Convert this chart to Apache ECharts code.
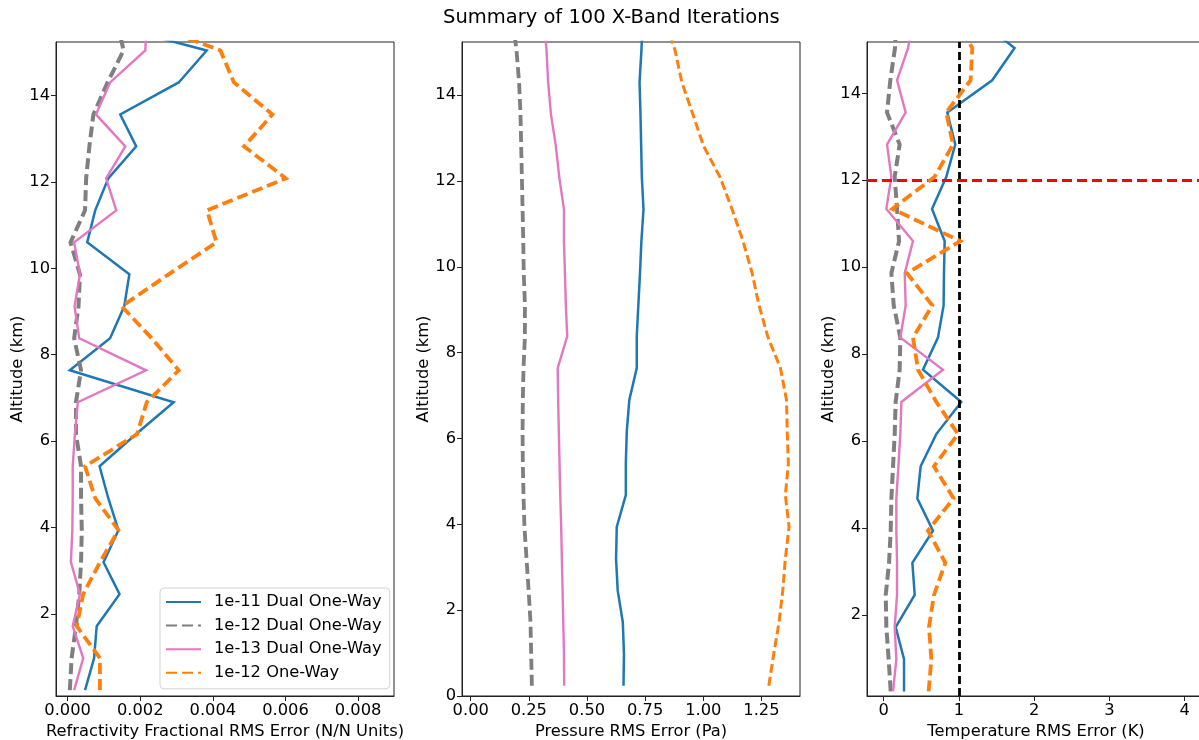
<!DOCTYPE html>
<html>
<head>
<meta charset="utf-8">
<script src="https://cdn.jsdelivr.net/npm/echarts@6/dist/echarts.min.js"></script>
<style>
html,body{margin:0;padding:0;background:#fff;}
#chart{width:1199px;height:740px;}
</style>
</head>
<body>
<div id="chart"></div>
<script>
// ---- data (bottom to top) ----
const altitudes = [0.24, 0.98, 1.72, 2.46, 3.2, 3.94, 4.68, 5.42, 6.16, 6.9, 7.64, 8.38, 9.12, 9.86, 10.6, 11.34, 12.08, 12.82, 13.56, 14.3, 15.04, 15.78];
const seriesNames = ['1e-11 Dual One-Way', '1e-12 Dual One-Way', '1e-13 Dual One-Way', '1e-12 One-Way'];

const refr11 = [0.00048,0.00073,0.0008,0.00143,0.00099,0.0014,0.00112,0.00088,0.00188,0.00292,0.00006,0.00117,0.00156,0.0017,0.00054,0.00076,0.00112,0.00189,0.00145,0.00306,0.00383,0.00048];
const refr12 = [0.00006,0.00011,0.00023,0.00032,0.00037,0.00039,0.00037,0.00037,0.00023,0.00023,0.00037,0.00018,0.0003,0.00034,0.00008,0.00048,0.00051,0.0006,0.00071,0.0011,0.00154,0.00135];
const refr13 = [0.00018,0.00043,0.00014,0.00034,0.00009,0.00013,0.00014,0.00014,0.0002,0.00028,0.00216,0.00032,0.00019,0.00034,0.00018,0.00134,0.00106,0.00159,0.00078,0.00117,0.00214,0.00218];
const refr1w = [0.00089,0.00089,0.00025,0.00043,0.00089,0.0014,0.00076,0.00048,0.00191,0.00218,0.00306,0.00232,0.00149,0.00278,0.0041,0.00384,0.00601,0.00486,0.00564,0.00458,0.00421,0.00182];

const pres11 = [0.657,0.659,0.654,0.632,0.625,0.628,0.667,0.667,0.671,0.682,0.714,0.714,0.721,0.728,0.734,0.743,0.736,0.733,0.73,0.726,0.734,0.74];
const pres12 = [0.263,0.26,0.257,0.249,0.24,0.231,0.227,0.224,0.223,0.224,0.227,0.233,0.233,0.228,0.226,0.223,0.22,0.217,0.214,0.208,0.197,0.18];
const pres13 = [0.402,0.401,0.398,0.395,0.392,0.389,0.385,0.382,0.379,0.376,0.374,0.415,0.409,0.405,0.401,0.401,0.381,0.366,0.345,0.333,0.326,0.315];
const pres1w = [1.282,1.303,1.326,1.342,1.353,1.369,1.353,1.366,1.361,1.358,1.332,1.277,1.239,1.21,1.171,1.124,1.073,1.001,0.955,0.908,0.879,0.836];

const temp11 = [0.27,0.27,0.159,0.412,0.381,0.655,0.447,0.491,0.699,1.031,0.522,0.721,0.796,0.801,0.81,0.642,0.832,0.951,0.845,1.442,1.739,1.2];
const temp12 = [0.093,0.066,0.035,0.027,0.071,0.093,0.102,0.124,0.146,0.159,0.212,0.221,0.133,0.102,0.204,0.177,0.146,0.212,0.044,0.088,0.15,0.168];
const temp13 = [0.124,0.168,0.146,0.177,0.177,0.168,0.168,0.195,0.221,0.235,0.788,0.221,0.292,0.279,0.389,0.035,0.102,0.044,0.292,0.177,0.323,0.4];
const temp1w = [0.597,0.633,0.602,0.668,0.819,0.588,0.929,0.668,0.987,0.699,0.456,0.389,0.646,0.31,1.018,0.115,0.677,0.92,0.832,1.155,1.177,0.95];

const tempLimit = [1];      // K, vertical reference
const altitudeMark = [12];  // km, horizontal reference

const refrTicks = [0, 0.002, 0.004, 0.006, 0.008];
const presTicks = [0, 0.25, 0.5, 0.75, 1.0, 1.25];
const tempTicks = [0, 1, 2, 3, 4];
const altTicks13 = [2, 4, 6, 8, 10, 12, 14];
const altTicks2 = [0, 2, 4, 6, 8, 10, 12, 14];

// ---- styling ----
const FONT = 'DejaVu Sans';
const FS = 16.3;
const colors = ['#1f77b4', '#7f7f7f', '#e377c2', '#ff7f0e'];
const axisCol = '#222';

function pairs(vals){ return vals.map((v,i)=>[v, altitudes[i]]); }

function xAxisDef(idx, min, max, ticks, name, fmt){
  return {
    type:'value', gridIndex:idx, min:min, max:max,
    name:name, nameLocation:'middle', nameGap:25,
    nameTextStyle:{fontFamily:FONT, fontSize:FS, color:'#000'},
    axisLine:{show:true, onZero:false, lineStyle:{color:axisCol, width:1}},
    axisTick:{show:true, inside:false, length:5, customValues:ticks, lineStyle:{color:axisCol}},
    axisLabel:{show:true, margin:7, customValues:ticks, formatter:fmt, fontFamily:FONT, fontSize:FS, color:'#000'},
    splitLine:{show:false}
  };
}
function yAxisDef(idx, min, max, ticks){
  return {
    type:'value', gridIndex:idx, min:min, max:max,
    name:'Altitude (km)', nameLocation:'middle', nameGap:28, nameRotate:90,
    nameTextStyle:{fontFamily:FONT, fontSize:FS, color:'#000'},
    axisLine:{show:true, onZero:false, lineStyle:{color:axisCol, width:1}},
    axisTick:{show:true, inside:false, length:5, customValues:ticks, lineStyle:{color:axisCol}},
    axisLabel:{show:true, margin:6, customValues:ticks, formatter:v=>String(Math.round(v)), fontFamily:FONT, fontSize:FS, color:'#000'},
    splitLine:{show:false}
  };
}
function lineSeries(idx, k, vals, width, dash){
  return {
    type:'line', name:seriesNames[k], xAxisIndex:idx, yAxisIndex:idx,
    data:pairs(vals), symbol:'none', clip:true, animation:false,
    lineStyle:{color:colors[k], width:width, type: dash ? dash : 'solid', cap:'butt', join:'miter'},
    itemStyle:{color:colors[k]}, z: 2 + k
  };
}

const grids = [
  {left:56, top:42, width:338, height:654},
  {left:462, top:42, width:338, height:654},
  {left:867, top:42, width:338, height:654}
].map(g=>Object.assign(g,{show:true, borderColor:axisCol, borderWidth:1, backgroundColor:'transparent', containLabel:false, outerBoundsMode:'none'}));

const series = [
  lineSeries(0,0,refr11,2.5,null),
  lineSeries(0,1,refr12,4,[11,5]),
  lineSeries(0,2,refr13,2.4,null),
  lineSeries(0,3,refr1w,3.8,[11,5]),
  lineSeries(1,0,pres11,2.5,null),
  lineSeries(1,1,pres12,3.8,[11,5]),
  lineSeries(1,2,pres13,2.4,null),
  lineSeries(1,3,pres1w,3,[9,4]),
  lineSeries(2,0,temp11,2.5,null),
  lineSeries(2,1,temp12,4,[11,5]),
  lineSeries(2,2,temp13,2.4,null),
  lineSeries(2,3,temp1w,3.8,[11,5])
];
// reference lines in the temperature panel
series.push({
  type:'line', xAxisIndex:2, yAxisIndex:2, data:[], symbol:'none', silent:true, animation:false,
  markLine:{
    symbol:['none','none'], silent:true, animation:false, label:{show:false},
    data:[
      {xAxis:tempLimit[0], lineStyle:{color:'#000', width:2.8, type:[8,4]}},
      {yAxis:altitudeMark[0], lineStyle:{color:'#ff0000', width:2.8, type:[10,5]}}
    ]
  }, z:10
});

const option = {
  backgroundColor:'#fff',
  animation:false,
  title:{text:'Summary of 100 X-Band Iterations', left:438, top:3,
    textStyle:{fontFamily:FONT, fontSize:19.5, fontWeight:'normal', color:'#000'}},
  legend:{
    data:seriesNames.map(n=>({name:n})), orient:'vertical', left:160, top:588,
    itemWidth:35, itemHeight:14, itemGap:7.6,
    padding:[6,8,8,5],
    backgroundColor:'#fff', borderColor:'#d3d3d3', borderWidth:1, borderRadius:4,
    itemStyle:{color:'rgba(0,0,0,0)', borderWidth:0, opacity:0},
    textStyle:{fontFamily:FONT, fontSize:FS, color:'#000', padding:[0,0,0,8]},
    selectedMode:false
  },
  grid:grids,
  xAxis:[
    xAxisDef(0,-0.00032,0.00899,refrTicks,'Refractivity Fractional RMS Error (N/N Units)',v=>v.toFixed(3)),
    xAxisDef(1,-0.0375,1.416,presTicks,'Pressure RMS Error (Pa)',v=>v.toFixed(2)),
    xAxisDef(2,-0.222,4.27,tempTicks,'Temperature RMS Error (K)',v=>String(Math.round(v)))
  ],
  yAxis:[
    yAxisDef(0,0.104,15.236,altTicks13),
    yAxisDef(1,0,15.24,altTicks2),
    yAxisDef(2,0.135,15.18,altTicks13)
  ],
  series:series
};
const chart = echarts.init(document.getElementById('chart'), null, {renderer:'canvas'});
chart.setOption(option);
</script>
</body>
</html>
